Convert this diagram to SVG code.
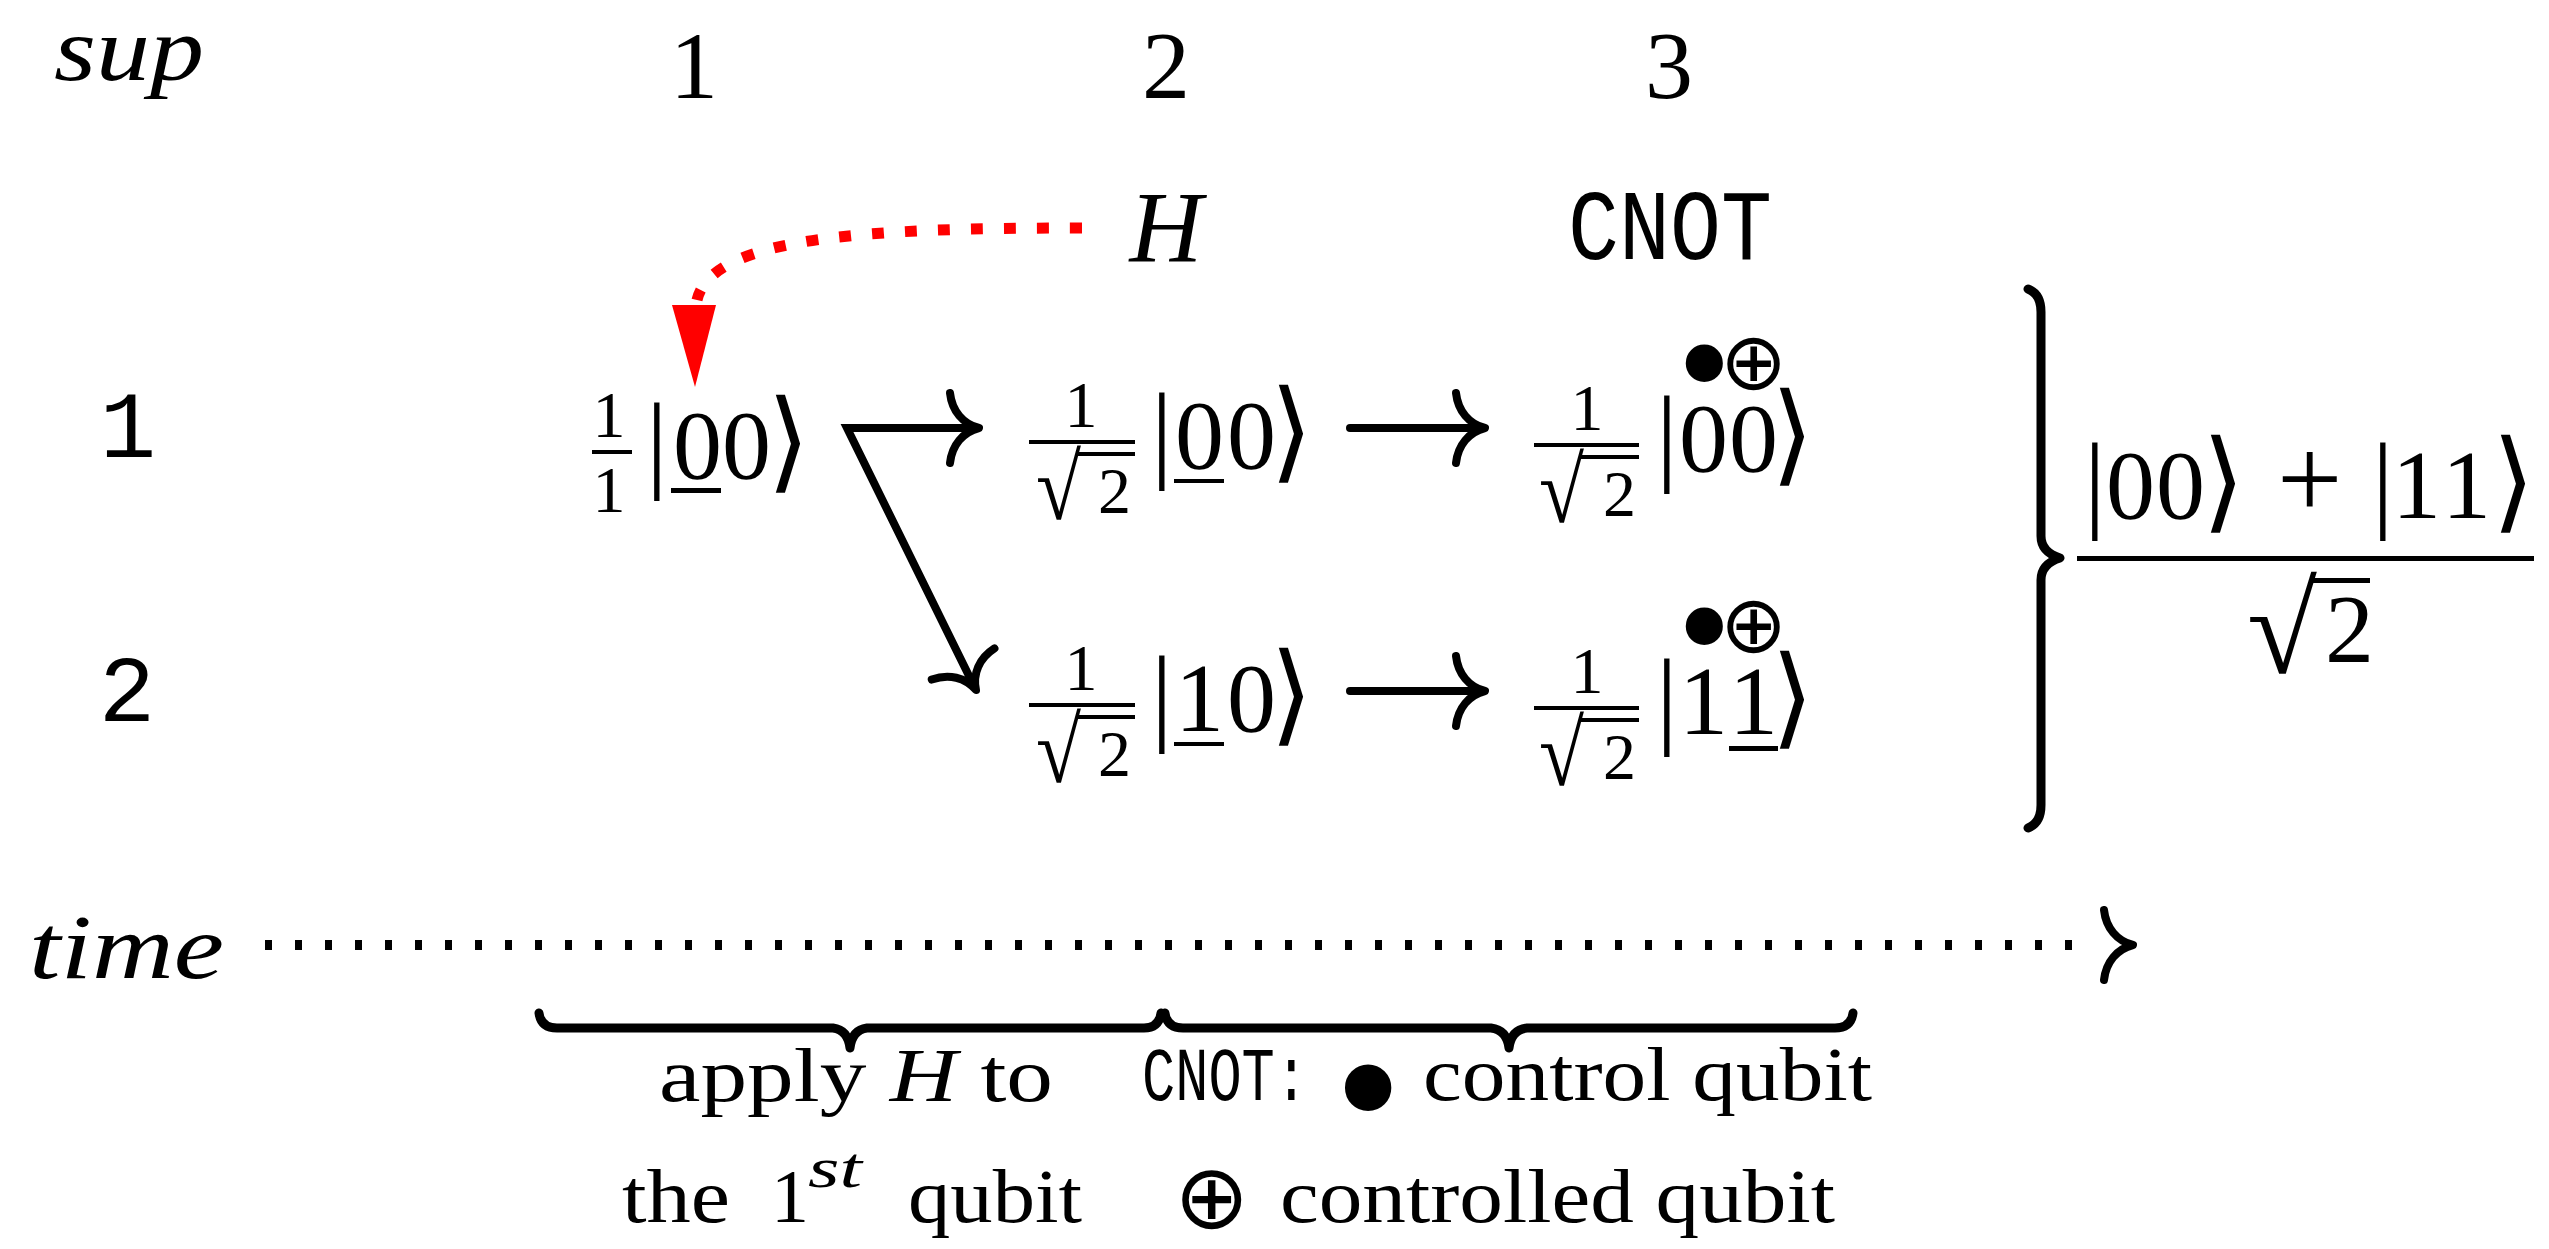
<svg xmlns="http://www.w3.org/2000/svg" xmlns:xlink="http://www.w3.org/1999/xlink" width="2549" height="1249" viewBox="0 0 2549 1249">
<style>
text{font-family:"Liberation Serif","DejaVu Serif",serif;fill:#000}
.it{font-style:italic}
.tt{font-family:"Liberation Mono","DejaVu Sans Mono",monospace}
.dg{font-size:98px}
.sm{font-size:66px}
.bar{font-size:108px}
.ang{font-family:"DejaVu Serif",serif;font-size:110px}
.rad{font-size:93px}
.sym{font-family:"DejaVu Sans",sans-serif}
.bul{font-family:"Liberation Serif",serif}
.lbl{font-size:76px}
.ln{fill:#000}
.conn{fill:none;stroke:#000;stroke-width:8;stroke-linecap:round}
</style>
<defs>
<path id="ah" d="M-29,-35 C-27,-17 -16,-4 0,0 C-16,4 -27,17 -29,35" fill="none" stroke="#000" stroke-width="8" stroke-linecap="round" stroke-linejoin="round"/>
</defs>
<rect width="2549" height="1249" fill="#fff"/>

<g id="header">
<text class="it" x="54" y="80" font-size="92" textLength="150" lengthAdjust="spacingAndGlyphs">sup</text>
<text x="694" y="98" font-size="96" text-anchor="middle">1</text>
<text x="1166" y="98" font-size="96" text-anchor="middle">2</text>
<text x="1669" y="98" font-size="96" text-anchor="middle">3</text>
</g>
<g id="gate-H"><text class="it" x="1166" y="262" font-size="101" text-anchor="middle">H</text></g>
<g id="gate-CNOT"><text class="tt" x="1568" y="259" font-size="100" textLength="204" lengthAdjust="spacingAndGlyphs">CNOT</text></g>

<g id="row-label-1"><text class="tt" x="128" y="457" font-size="94" text-anchor="middle">1</text></g>
<g id="row-label-2"><text class="tt" x="127" y="721" font-size="94" text-anchor="middle">2</text></g>

<g id="state-start">
<text class="sm" x="609" y="437" text-anchor="middle">1</text>
<rect class="ln" x="592" y="450" width="40" height="4"/>
<text class="sm" x="609" y="512" text-anchor="middle">1</text>
<text class="dg" y="478"><tspan class="bar" x="646">|</tspan><tspan x="673">0</tspan><tspan x="722">0</tspan><tspan class="ang" x="767">⟩</tspan></text>
<rect class="ln" x="671" y="488" width="50" height="5"/>
</g>

<g id="state-2-1">
<text class="sm" x="1081" y="427" text-anchor="middle">1</text>
<rect class="ln" x="1029" y="440" width="106" height="4"/>
<text><tspan class="rad" x="1036" y="519" textLength="45" lengthAdjust="spacingAndGlyphs">√</tspan><tspan class="sm" x="1098" y="513">2</tspan></text>
<rect class="ln" x="1078" y="452" width="57" height="4"/>
<text class="dg" y="468"><tspan class="bar" x="1151">|</tspan><tspan x="1175">0</tspan><tspan x="1227">0</tspan><tspan class="ang" x="1270">⟩</tspan></text>
<rect class="ln" x="1174" y="479" width="50" height="4"/>
</g>

<g id="state-2-2">
<text class="sm" x="1081" y="690" text-anchor="middle">1</text>
<rect class="ln" x="1029" y="703" width="106" height="4"/>
<text><tspan class="rad" x="1036" y="782" textLength="45" lengthAdjust="spacingAndGlyphs">√</tspan><tspan class="sm" x="1098" y="776">2</tspan></text>
<rect class="ln" x="1078" y="715" width="57" height="4"/>
<text class="dg" y="731"><tspan class="bar" x="1151">|</tspan><tspan x="1175">1</tspan><tspan x="1227">0</tspan><tspan class="ang" x="1270">⟩</tspan></text>
<rect class="ln" x="1174" y="742" width="50" height="4"/>
</g>

<g id="state-3-1">
<text class="sm" x="1587" y="430" text-anchor="middle">1</text>
<rect class="ln" x="1534" y="443" width="105" height="4"/>
<text><tspan class="rad" x="1539" y="522" textLength="45" lengthAdjust="spacingAndGlyphs">√</tspan><tspan class="sm" x="1603" y="516">2</tspan></text>
<rect class="ln" x="1581" y="455" width="58" height="4"/>
<text class="dg" y="471"><tspan class="bar" x="1656">|</tspan><tspan x="1679">0</tspan><tspan x="1729">0</tspan><tspan class="ang" x="1771">⟩</tspan></text>
<text><tspan class="bul" x="1677" y="415" font-size="156">•</tspan><tspan class="sym" x="1720" y="389" font-size="80">⊕</tspan></text>
</g>

<g id="state-3-2">
<text class="sm" x="1587" y="693" text-anchor="middle">1</text>
<rect class="ln" x="1534" y="706" width="105" height="4"/>
<text><tspan class="rad" x="1539" y="785" textLength="45" lengthAdjust="spacingAndGlyphs">√</tspan><tspan class="sm" x="1603" y="779">2</tspan></text>
<rect class="ln" x="1581" y="718" width="58" height="4"/>
<text class="dg" y="734"><tspan class="bar" x="1656">|</tspan><tspan x="1679">1</tspan><tspan x="1729">1</tspan><tspan class="ang" x="1771">⟩</tspan></text>
<rect class="ln" x="1729" y="746" width="49" height="5"/>
<text><tspan class="bul" x="1677" y="678" font-size="156">•</tspan><tspan class="sym" x="1720" y="652" font-size="80">⊕</tspan></text>
</g>

<g id="result">
<path d="M2028,289 Q2041,294 2041,312 L2041,536 Q2041,552 2060,558 Q2041,564 2041,580 L2041,805 Q2041,823 2028,828" fill="none" stroke="#000" stroke-width="9" stroke-linecap="round" stroke-linejoin="round"/>
<text class="dg" y="518"><tspan class="bar" x="2084">|</tspan><tspan x="2106">0</tspan><tspan x="2156">0</tspan><tspan class="ang" x="2202">⟩</tspan><tspan x="2277" font-size="116">+</tspan><tspan class="bar" x="2372">|</tspan><tspan x="2392">1</tspan><tspan x="2442">1</tspan><tspan class="ang" x="2492">⟩</tspan></text>
<rect class="ln" x="2077" y="556" width="457" height="5"/>
<text><tspan x="2247" y="673" font-size="128" textLength="70" lengthAdjust="spacingAndGlyphs">√</tspan><tspan x="2325" y="662" class="dg">2</tspan></text>
<rect class="ln" x="2313" y="578" width="57" height="5"/>
</g>

<g id="time-axis">
<text class="it" x="29" y="978" font-size="92" textLength="195" lengthAdjust="spacingAndGlyphs">time</text>
</g>

<g id="brace-H">
<path d="M539,1013 Q541,1028 557,1028 L833,1028 Q848,1030 850,1048 Q852,1030 867,1028 L1144,1028 Q1159,1028 1161,1013" fill="none" stroke="#000" stroke-width="9" stroke-linecap="round" stroke-linejoin="round"/>
<text class="lbl" x="659" y="1101" textLength="394" lengthAdjust="spacingAndGlyphs">apply <tspan class="it">H</tspan> to</text>
<text class="lbl" y="1222"><tspan x="622" textLength="108" lengthAdjust="spacingAndGlyphs">the</tspan><tspan x="771">1</tspan><tspan class="it" font-size="58" x="808" y="1187" textLength="54" lengthAdjust="spacingAndGlyphs">st</tspan><tspan x="908" y="1222" textLength="174" lengthAdjust="spacingAndGlyphs">qubit</tspan></text>
</g>

<g id="brace-CNOT">
<path d="M1165,1013 Q1167,1028 1183,1028 L1491,1028 Q1507,1030 1509,1048 Q1511,1030 1527,1028 L1835,1028 Q1851,1028 1853,1013" fill="none" stroke="#000" stroke-width="9" stroke-linecap="round" stroke-linejoin="round"/>
<text class="lbl" y="1100"><tspan class="tt" x="1142" textLength="166" lengthAdjust="spacingAndGlyphs">CNOT:</tspan><tspan class="bul" x="1334" y="1152" font-size="195">•</tspan><tspan x="1423" y="1100" textLength="449" lengthAdjust="spacingAndGlyphs">control qubit</tspan></text>
<text class="lbl" y="1222"><tspan class="sym" x="1174" y="1228" font-size="90">⊕</tspan><tspan x="1280" y="1222" textLength="555" lengthAdjust="spacingAndGlyphs">controlled qubit</tspan></text>
</g>

<g id="connectors">
<path d="M1082,228 C870,228 712,236 697,300" fill="none" stroke="#f00" stroke-width="11" stroke-dasharray="12 21"/>
<path d="M672,305 L716,305 L695,387 Z" fill="#f00"/>
<path class="conn" d="M975,428 L847,428 L973,684" stroke-linecap="butt" stroke-linejoin="miter"/>
<use xlink:href="#ah" transform="translate(979,428)"/>
<use xlink:href="#ah" transform="translate(976,690) rotate(63.6)"/>
<path class="conn" d="M1350,428 H1483"/>
<use xlink:href="#ah" transform="translate(1485,428)"/>
<path class="conn" d="M1350,691 H1483"/>
<use xlink:href="#ah" transform="translate(1485,691)"/>
<path d="M265,945 H2095" fill="none" stroke="#000" stroke-width="10" stroke-dasharray="7 23"/>
<use xlink:href="#ah" transform="translate(2133,945)"/>
</g>
</svg>
